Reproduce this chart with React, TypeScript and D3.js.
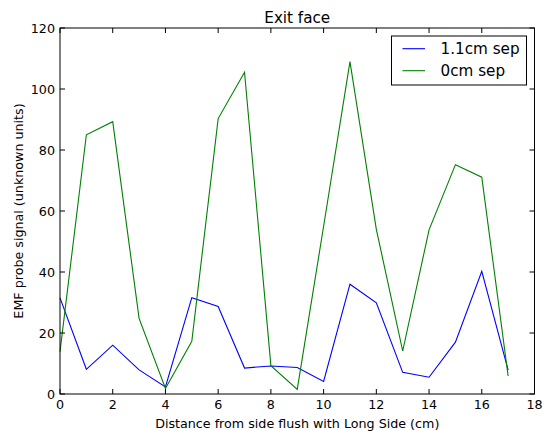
import React, { useEffect, useRef } from 'react';
import * as d3 from 'd3';

const distance = [0, 1, 2, 3, 4, 5, 6, 7, 8, 9, 10, 11, 12, 13, 14, 15, 16, 17];
const sep11 = [31.5, 8.1, 16, 7.9, 2.3, 31.6, 28.7, 8.5, 9.2, 8.7, 4.1, 36, 29.9, 7.1, 5.5, 17, 40.2, 7.8];
const sep0 = [13.9, 85, 89.3, 24.8, 1.8, 17.3, 90.3, 105.5, 9.3, 1.5, 55, 109, 54, 14.1, 53.8, 75.2, 71.1, 5.9];
const seriesNames = ['1.1cm sep', '0cm sep'];
const seriesColors = ['#0000ff', '#008000'];
const xTicks = [0, 2, 4, 6, 8, 10, 12, 14, 16, 18];
const yTicks = [0, 20, 40, 60, 80, 100, 120];

function App() {
  const svgRef = useRef<SVGSVGElement>(null);

  useEffect(() => {
    if (!svgRef.current) return;
    const width = 547;
    const height = 431;
    const margin = { top: 28, right: 12.5, bottom: 37, left: 60 };
    const font = 'DejaVu Sans, sans-serif';
    const small = 12.7;
    const large = 15.2;

    const svg = d3.select(svgRef.current);
    svg.selectAll('*').remove();

    const x = d3.scaleLinear().domain([0, 18]).range([margin.left, width - margin.right]);
    const y = d3.scaleLinear().domain([0, 120]).range([height - margin.bottom, margin.top]);

    svg.append('rect').attr('width', width).attr('height', height).attr('fill', '#fff');

    // lines
    const series = [sep11, sep0];
    series.forEach((vals, i) => {
      const line = d3.line<number>()
        .x((_, j) => x(distance[j]))
        .y(d => y(d));
      svg.append('path')
        .datum(vals)
        .attr('d', line)
        .attr('fill', 'none')
        .attr('stroke', seriesColors[i])
        .attr('stroke-width', 1.1);
    });

    // frame
    svg.append('rect')
      .attr('x', x(0)).attr('y', y(120))
      .attr('width', x(18) - x(0)).attr('height', y(0) - y(120))
      .attr('fill', 'none').attr('stroke', '#000').attr('stroke-width', 1);

    const tick = 5;
    const g = svg.append('g').attr('stroke', '#000').attr('stroke-width', 1);
    xTicks.forEach(t => {
      g.append('line').attr('x1', x(t)).attr('x2', x(t)).attr('y1', y(0)).attr('y2', y(0) - tick);
      g.append('line').attr('x1', x(t)).attr('x2', x(t)).attr('y1', y(120)).attr('y2', y(120) + tick);
    });
    yTicks.forEach(t => {
      g.append('line').attr('x1', x(0)).attr('x2', x(0) + tick).attr('y1', y(t)).attr('y2', y(t));
      g.append('line').attr('x1', x(18)).attr('x2', x(18) - tick).attr('y1', y(t)).attr('y2', y(t));
    });

    // tick labels
    xTicks.forEach(t => {
      svg.append('text')
        .attr('x', x(t)).attr('y', y(0) + 10)
        .attr('text-anchor', 'middle').attr('dominant-baseline', 'central')
        .attr('font-family', font).attr('font-size', small)
        .text(t);
    });
    yTicks.forEach(t => {
      svg.append('text')
        .attr('x', x(0) - 5).attr('y', y(t))
        .attr('text-anchor', 'end').attr('dominant-baseline', 'central')
        .attr('font-family', font).attr('font-size', small)
        .text(t);
    });

    // axis labels and title
    svg.append('text')
      .attr('x', (x(0) + x(18)) / 2).attr('y', 423)
      .attr('text-anchor', 'middle').attr('dominant-baseline', 'central')
      .attr('font-family', font).attr('font-size', small)
      .text('Distance from side flush with Long Side (cm)');
    svg.append('text')
      .attr('transform', `translate(18, ${(y(0) + y(120)) / 2}) rotate(-90)`)
      .attr('text-anchor', 'middle').attr('dominant-baseline', 'central')
      .attr('font-family', font).attr('font-size', small)
      .text('EMF probe signal (unknown units)');
    svg.append('text')
      .attr('x', (x(0) + x(18)) / 2).attr('y', 18)
      .attr('text-anchor', 'middle').attr('dominant-baseline', 'central')
      .attr('font-family', font).attr('font-size', large)
      .text('Exit face');

    // legend
    const lg = svg.append('g');
    lg.append('rect')
      .attr('x', 391.5).attr('y', 36).attr('width', 135).attr('height', 49)
      .attr('fill', '#fff').attr('stroke', '#000').attr('stroke-width', 1);
    seriesNames.forEach((name, i) => {
      const ry = 48.7 + i * 22;
      lg.append('line')
        .attr('x1', 402.5).attr('x2', 425).attr('y1', ry).attr('y2', ry)
        .attr('stroke', seriesColors[i]).attr('stroke-width', 1.1);
      lg.append('text')
        .attr('x', 440.5).attr('y', ry)
        .attr('dominant-baseline', 'central')
        .attr('font-family', font).attr('font-size', large)
        .text(name);
    });
  }, []);

  return (
    <svg ref={svgRef} width={547} height={431}
      style={{ position: 'absolute', left: 0, top: 0, display: 'block' }} />
  );
}

export default App;
